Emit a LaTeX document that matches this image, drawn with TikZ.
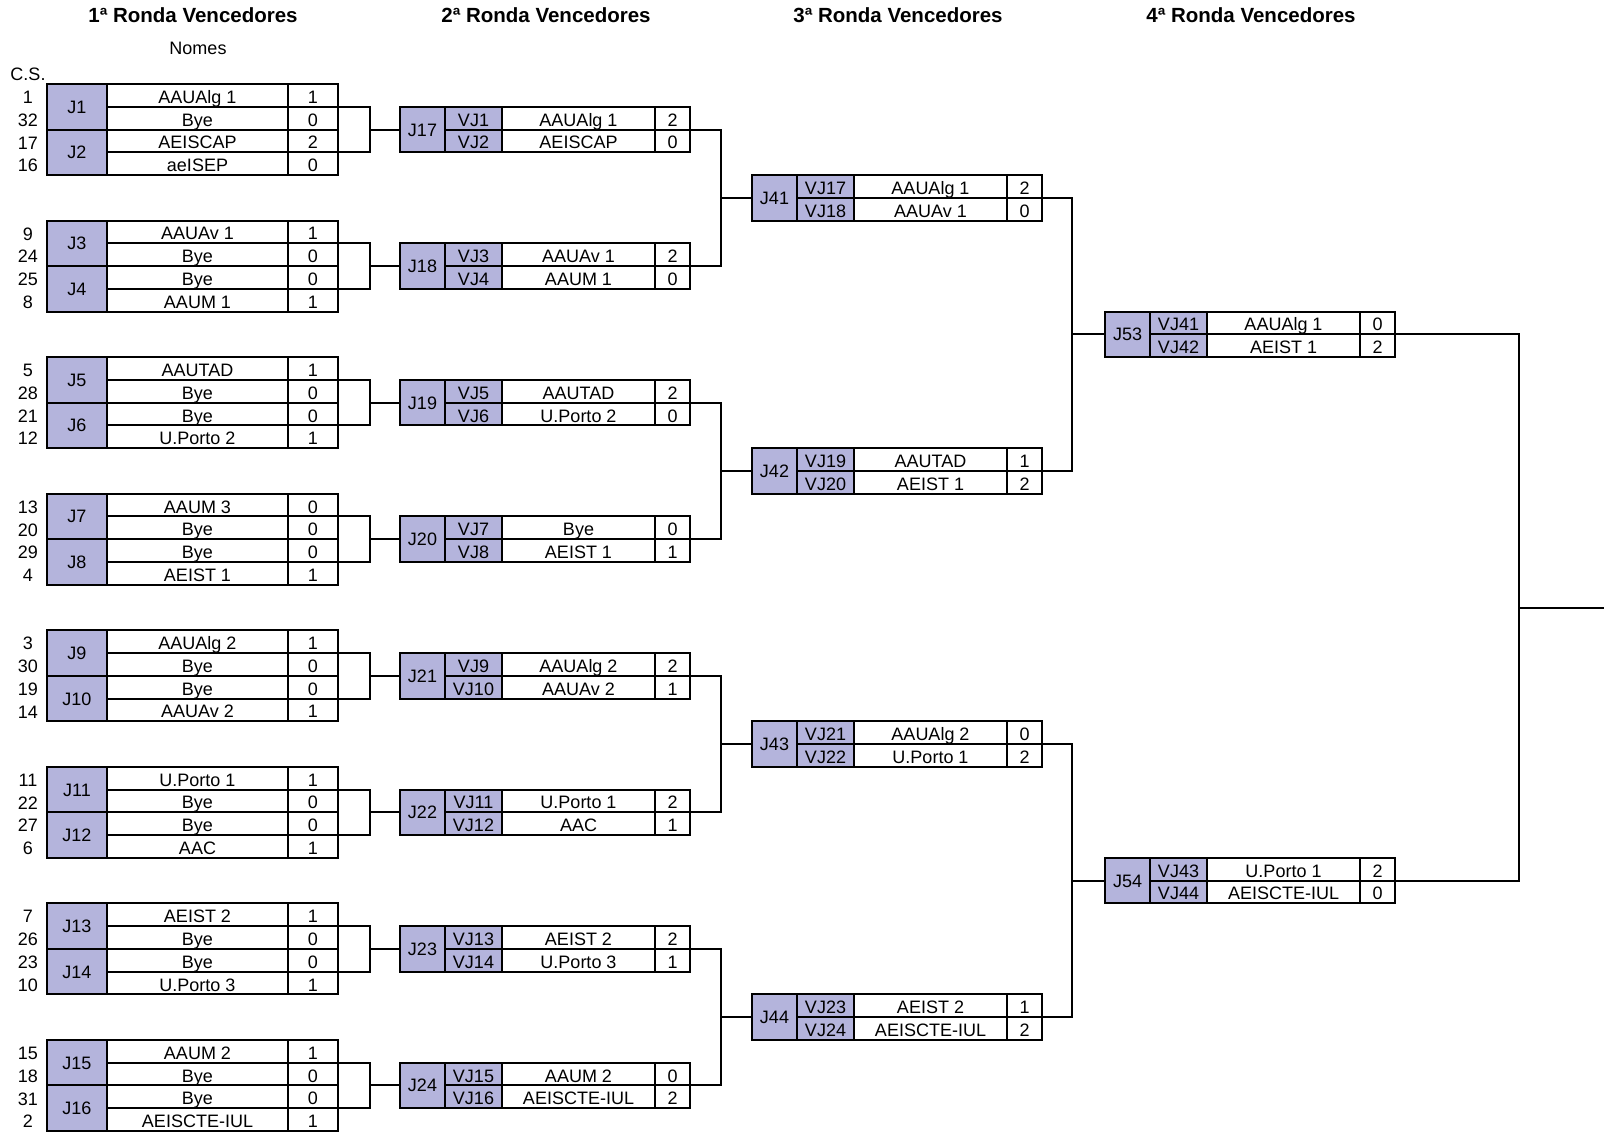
\documentclass[tikz,border=0pt]{standalone}
\usepackage{fontspec}
\setmainfont{Liberation Sans}
\usepackage{tikz}
\usetikzlibrary{calc}
\definecolor{jogo}{RGB}{180, 180, 220}

\begin{document}
\begin{tikzpicture}[x=1pt, y=-1pt,
    cell/.style={draw, line width=2pt, outer sep=0pt, inner sep=0pt, anchor=north west,
        minimum height=22.76pt, text height=16pt, text depth=0pt, font=\fontsize{18}{20}\selectfont},
    jcell/.style={cell, fill=jogo, minimum height=45.52pt, text height=13pt},
    vcell/.style={cell, fill=jogo, minimum width=57pt},
    seed/.style={inner sep=0pt, anchor=north, minimum height=22.76pt, text height=16pt, text depth=0pt, font=\fontsize{18}{20}\selectfont},
    titulo/.style={inner sep=0pt, font=\bfseries\fontsize{20.5}{24}\selectfont},
    rotulo/.style={inner sep=0pt, font=\fontsize{18}{20}\selectfont},
    link/.style={line width=2pt}]
    \useasboundingbox (0,0) rectangle (1604,1132);

    % Headings
    \node[titulo] (t1) at (193,15) {1ª Ronda Vencedores};
    \node[titulo] (t2) at (546,15) {2ª Ronda Vencedores};
    \node[titulo] (t3) at (898,15) {3ª Ronda Vencedores};
    \node[titulo] (t4) at (1251,15) {4ª Ronda Vencedores};
    \node[rotulo] (nomes) at (198,48) {Nomes};
    \node[rotulo] (cs) at (28,74) {C.S.};

    % 1st round
    \foreach \m/\sa/\na/\pa/\sb/\nb/\pb in {
        1/1/AAUAlg 1/1/32/Bye/0, 2/17/AEISCAP/2/16/aeISEP/0,
        3/9/AAUAv 1/1/24/Bye/0, 4/25/Bye/0/8/AAUM 1/1,
        5/5/AAUTAD/1/28/Bye/0, 6/21/Bye/0/12/U.Porto 2/1,
        7/13/AAUM 3/0/20/Bye/0, 8/29/Bye/0/4/AEIST 1/1,
        9/3/AAUAlg 2/1/30/Bye/0, 10/19/Bye/0/14/AAUAv 2/1,
        11/11/U.Porto 1/1/22/Bye/0, 12/27/Bye/0/6/AAC/1,
        13/7/AEIST 2/1/26/Bye/0, 14/23/Bye/0/10/U.Porto 3/1,
        15/15/AAUM 2/1/18/Bye/0, 16/31/Bye/0/2/AEISCTE-IUL/1}{
        \pgfmathsetmacro{\yy}{84 + 22.76*(6*floor((\m-1)/2) + 2*mod(\m-1,2))}
        \pgfmathsetmacro{\yb}{\yy + 22.76}
        \node[jcell, minimum width=60pt] (j\m) at (47,\yy) {J\m};
        \node[cell, minimum width=181pt] (n\m-a) at (107,\yy) {\na};
        \node[cell, minimum width=50pt] (s\m-a) at (288,\yy) {\pa};
        \node[cell, minimum width=181pt] (n\m-b) at (107,\yb) {\nb};
        \node[cell, minimum width=50pt] (s\m-b) at (288,\yb) {\pb};
        \node[seed] (cs\sa) at (28,\yy) {\sa};
        \node[seed] (cs\sb) at (28,\yb) {\sb};
    }

    % Rounds 2 to 4
    \foreach \m/\xo/\r/\va/\na/\pa/\vb/\nb/\pb in {
        17/400/1/1/AAUAlg 1/2/2/AEISCAP/0,
        18/400/7/3/AAUAv 1/2/4/AAUM 1/0,
        19/400/13/5/AAUTAD/2/6/U.Porto 2/0,
        20/400/19/7/Bye/0/8/AEIST 1/1,
        21/400/25/9/AAUAlg 2/2/10/AAUAv 2/1,
        22/400/31/11/U.Porto 1/2/12/AAC/1,
        23/400/37/13/AEIST 2/2/14/U.Porto 3/1,
        24/400/43/15/AAUM 2/0/16/AEISCTE-IUL/2,
        41/752/4/17/AAUAlg 1/2/18/AAUAv 1/0,
        42/752/16/19/AAUTAD/1/20/AEIST 1/2,
        43/752/28/21/AAUAlg 2/0/22/U.Porto 1/2,
        44/752/40/23/AEIST 2/1/24/AEISCTE-IUL/2,
        53/1105/10/41/AAUAlg 1/0/42/AEIST 1/2,
        54/1105/34/43/U.Porto 1/2/44/AEISCTE-IUL/0}{
        \pgfmathsetmacro{\yy}{84 + 22.76*\r}
        \pgfmathsetmacro{\yb}{\yy + 22.76}
        \node[jcell, minimum width=45pt] (j\m) at (\xo,\yy) {J\m};
        \node[vcell] (v\m-a) at (\xo+45,\yy) {VJ\va};
        \node[cell, minimum width=153pt] (n\m-a) at (\xo+102,\yy) {\na};
        \node[cell, minimum width=35pt] (s\m-a) at (\xo+255,\yy) {\pa};
        \node[vcell] (v\m-b) at (\xo+45,\yb) {VJ\vb};
        \node[cell, minimum width=153pt] (n\m-b) at (\xo+102,\yb) {\nb};
        \node[cell, minimum width=35pt] (s\m-b) at (\xo+255,\yb) {\pb};
    }

    % Brackets
    \foreach \a/\b/\n/\d in {1/2/17/32, 3/4/18/32, 5/6/19/32, 7/8/20/32,
        9/10/21/32, 11/12/22/32, 13/14/23/32, 15/16/24/32,
        17/18/41/31, 19/20/42/31, 21/22/43/31, 23/24/44/31,
        41/42/53/30, 43/44/54/30}{
        \draw[link] (s\a-a.south east) -- ++(\d,0) coordinate (k\n) |- (s\b-a.south east);
        \draw[link] (k\n |- j\n.west) -- (j\n.west);
    }
    \draw[link] (s53-a.south east) -- ++(124,0) coordinate (kf) |- (s54-a.south east);
    \coordinate (campeao) at (1604,607.5);
    \draw[link] (kf |- campeao) -- (campeao);
\end{tikzpicture}
\end{document}
